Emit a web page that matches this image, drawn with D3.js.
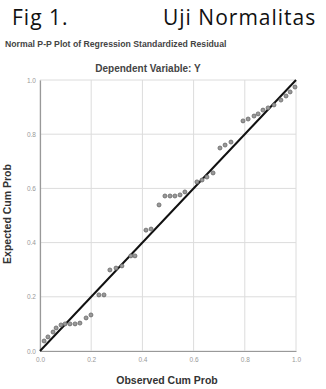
<!DOCTYPE html>
<html>
<head>
<meta charset="utf-8">
<script src="https://cdn.jsdelivr.net/npm/d3@7/dist/d3.min.js"></script>
<style>
  body { margin: 0; background: #fff; }
  svg { display: block; }
</style>
</head>
<body>
<svg id="chart" width="326" height="389"></svg>
<script>
'use strict';

// observed / expected cumulative probabilities
var observed = [0.016, 0.031, 0.051, 0.063, 0.082, 0.098, 0.117, 0.137, 0.156, 0.180,
  0.199, 0.230, 0.250, 0.273, 0.297, 0.320, 0.355, 0.371, 0.414, 0.434,
  0.465, 0.488, 0.508, 0.527, 0.547, 0.566, 0.613, 0.633, 0.652, 0.676,
  0.703, 0.723, 0.746, 0.793, 0.813, 0.836, 0.852, 0.871, 0.891, 0.914,
  0.941, 0.961, 0.977, 0.996];
var expected = [0.037, 0.052, 0.070, 0.085, 0.096, 0.100, 0.100, 0.100, 0.103, 0.122,
  0.133, 0.207, 0.207, 0.299, 0.306, 0.314, 0.351, 0.351, 0.446, 0.450,
  0.539, 0.572, 0.572, 0.572, 0.576, 0.587, 0.624, 0.631, 0.642, 0.657,
  0.749, 0.760, 0.771, 0.849, 0.856, 0.867, 0.875, 0.889, 0.897, 0.908,
  0.926, 0.941, 0.956, 0.974];
var ticks = [0, 0.2, 0.4, 0.6, 0.8, 1.0];
var tickLabels = ['0.0', '0.2', '0.4', '0.6', '0.8', '1.0'];

var svg = d3.select('#chart');

var x = d3.scaleLinear().domain([0, 1]).range([40, 296]);
var y = d3.scaleLinear().domain([0, 1]).range([351, 80]);

// heading
svg.append('text').attr('x', 12).attr('y', 25)
  .attr('font-family', 'Open Sans').attr('font-size', 21).attr('fill', '#111')
  .attr('letter-spacing', 1)
  .text('Fig 1.');
svg.append('text').attr('x', 163).attr('y', 25)
  .attr('font-family', 'Open Sans').attr('font-size', 21).attr('fill', '#111')
  .attr('letter-spacing', 1)
  .text('Uji Normalitas');

svg.append('text').attr('x', 5).attr('y', 47)
  .attr('font-family', 'Liberation Sans').attr('font-weight', 'bold')
  .attr('font-size', 8.7).attr('fill', '#444')
  .text('Normal P-P Plot of Regression Standardized Residual');
svg.append('text').attr('x', 148).attr('y', 72).attr('text-anchor', 'middle')
  .attr('font-family', 'Liberation Sans').attr('font-weight', 'bold')
  .attr('font-size', 10).attr('fill', '#444')
  .text('Dependent Variable: Y');

// grid
var grid = svg.append('g').attr('stroke', '#dcdcdc').attr('stroke-width', 1);
grid.selectAll('.gx').data(ticks).enter().append('line')
  .attr('x1', function(d) { return x(d); }).attr('x2', function(d) { return x(d); })
  .attr('y1', y(0)).attr('y2', y(1));
grid.selectAll('.gy').data(ticks).enter().append('line')
  .attr('x1', x(0)).attr('x2', x(1))
  .attr('y1', function(d) { return y(d); }).attr('y2', function(d) { return y(d); });

// axes
var xAxis = d3.axisBottom(x).tickValues(ticks).tickSize(0).tickPadding(6)
  .tickFormat(function(d, i) { return tickLabels[i]; });
var yAxis = d3.axisLeft(y).tickValues(ticks).tickSize(0).tickPadding(4)
  .tickFormat(function(d, i) { return tickLabels[i]; });

var gx = svg.append('g').attr('transform', 'translate(0,' + y(0) + ')').call(xAxis);
var gy = svg.append('g').attr('transform', 'translate(' + x(0) + ',0)').call(yAxis);
[gx, gy].forEach(function(g) {
  g.select('.domain').attr('stroke', '#999').attr('stroke-width', 1.2);
  g.selectAll('text').attr('font-family', 'Liberation Sans').attr('font-size', 6.5).attr('fill', '#999');
});

// reference line
svg.append('line')
  .attr('x1', x(0)).attr('y1', y(0)).attr('x2', x(1)).attr('y2', y(1))
  .attr('stroke', '#111').attr('stroke-width', 2);

// points
svg.append('g').selectAll('circle')
  .data(observed.map(function(o, i) { return [o, expected[i]]; }))
  .enter().append('circle')
  .attr('cx', function(d) { return x(d[0]); })
  .attr('cy', function(d) { return y(d[1]); })
  .attr('r', 2)
  .attr('fill', '#999').attr('stroke', '#666').attr('stroke-width', 0.8);

// axis titles
svg.append('text').attr('x', 167).attr('y', 384).attr('text-anchor', 'middle')
  .attr('font-family', 'Liberation Sans').attr('font-weight', 'bold')
  .attr('font-size', 10.5).attr('fill', '#333')
  .text('Observed Cum Prob');
svg.append('text').attr('transform', 'translate(11,214) rotate(-90)')
  .attr('text-anchor', 'middle')
  .attr('font-family', 'Liberation Sans').attr('font-weight', 'bold')
  .attr('font-size', 10.5).attr('fill', '#333')
  .text('Expected Cum Prob');
</script>
</body>
</html>
